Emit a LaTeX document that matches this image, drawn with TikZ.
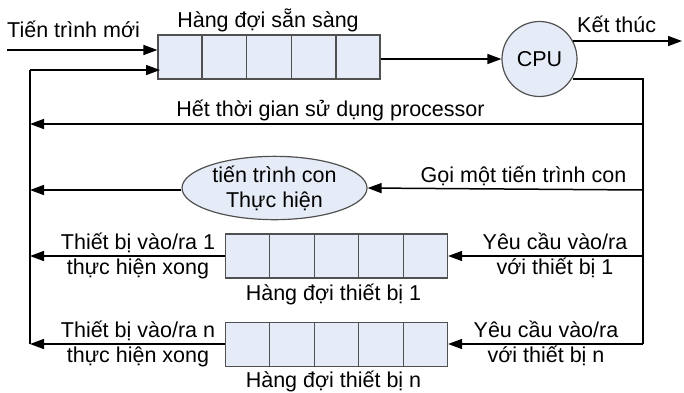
\documentclass[tikz,border=0pt]{standalone}
\usepackage{fontspec}
\setmainfont{Liberation Sans}
\usetikzlibrary{arrows.meta,shapes.geometric,calc}
\definecolor{qfill}{HTML}{E6ECF7}
\definecolor{qdraw}{HTML}{505050}
\begin{document}
\begin{tikzpicture}[x=1pt,y=-1pt,
  font=\fontsize{21.5}{25}\selectfont,
  queue/.style={draw=qdraw,fill=qfill,line width=1.2pt,minimum width=222pt,minimum height=44pt,inner sep=0pt},
  cpu/.style={circle,draw=qdraw,fill=qfill,line width=1.2pt,minimum size=75pt,inner sep=0pt},
  oval/.style={ellipse,draw=qdraw,fill=qfill,line width=1.2pt,minimum width=185pt,minimum height=55pt,inner sep=0pt,align=center},
  conn/.style={line width=1.5pt,-{Triangle[length=14pt,width=10pt]}},
  plain/.style={line width=1.5pt},
  lbl/.style={inner sep=0pt,anchor=base}]
\useasboundingbox (0,0) rectangle (684,392);

% queues
\node[queue] (rq) at (269,57) {};
\node[queue] (q1) at (336.5,256) {};
\node[queue] (qn) at (336.5,344.5) {};
\foreach \q in {rq,q1,qn}{
  \foreach \i in {1,...,4}{
    \draw[qdraw,line width=1.2pt] ($(\q.north west)!\i/5!(\q.north east)$) -- ($(\q.south west)!\i/5!(\q.south east)$);
  }
}
\node[cpu] (cpu) at (539.5,59) {CPU};
\node[oval] (sub) at (274.5,188) {tiến trình con\\Thực hiện};

% coordinates
\coordinate (in) at (7,50);
\coordinate (end) at (682,41);
\coordinate (cpuout) at (573,79);
\coordinate (rr) at (643,79);
\coordinate (rt) at (643,124);
\coordinate (rs) at (643,190);
\coordinate (r1) at (643,256);
\coordinate (rn) at (643,344);
\coordinate (lt) at (30,124);
\coordinate (ls) at (30,190);
\coordinate (l1) at (30,256);
\coordinate (ln) at (30,344);
\coordinate (lq) at (30,70);
\coordinate (rqin) at (160,70);
\coordinate (cpuend) at (573,41);

% connectors
\draw[conn] (in) -- (in -| rq.west);
\draw[plain] (ln) -- (lq);
\draw[conn] (lq) -- (rqin);
\draw[conn] (rq.east |- cpu.west) -- (cpu.west);
\draw[conn] (cpuend) -- (end);
\draw[plain] (cpuout) -- (rr) -- (rn);
\draw[conn] (rt) -- (lt);
\draw[conn] (rs) -- (sub.east);
\draw[conn] (sub.west |- ls) -- (ls);
\draw[conn] (r1) -- (r1 -| q1.east);
\draw[conn] (q1.west |- l1) -- (l1);
\draw[conn] (rn) -- (rn -| qn.east);
\draw[conn] (qn.west |- ln) -- (ln);

% labels
\node[lbl,anchor=base west] (tin) at (7,37) {Tiến trình mới};
\node[lbl] (trq) at (268,27) {Hàng đợi sẵn sàng};
\node[lbl,anchor=base west] (tend) at (577,32) {Kết thúc};
\node[lbl] (tt) at (330.5,116) {Hết thời gian sử dụng processor};
\node[lbl] (ts) at (523.5,182) {Gọi một tiến trình con};
\node[lbl] (tl1a) at (138,249) {Thiết bị vào/ra 1};
\node[lbl] (tl1b) at (138,274.5) {thực hiện xong};
\node[lbl] (tr1a) at (555,249) {Yêu cầu vào/ra};
\node[lbl] (tr1b) at (555,274.5) {với thiết bị 1};
\node[lbl] (tq1) at (333.5,300) {Hàng đợi thiết bị 1};
\node[lbl] (tlna) at (138,337) {Thiết bị vào/ra n};
\node[lbl] (tlnb) at (138,362) {thực hiện xong};
\node[lbl] (trna) at (546,337) {Yêu cầu vào/ra};
\node[lbl] (trnb) at (546,362) {với thiết bị n};
\node[lbl] (tqn) at (333.5,387) {Hàng đợi thiết bị n};
\end{tikzpicture}
\end{document}
